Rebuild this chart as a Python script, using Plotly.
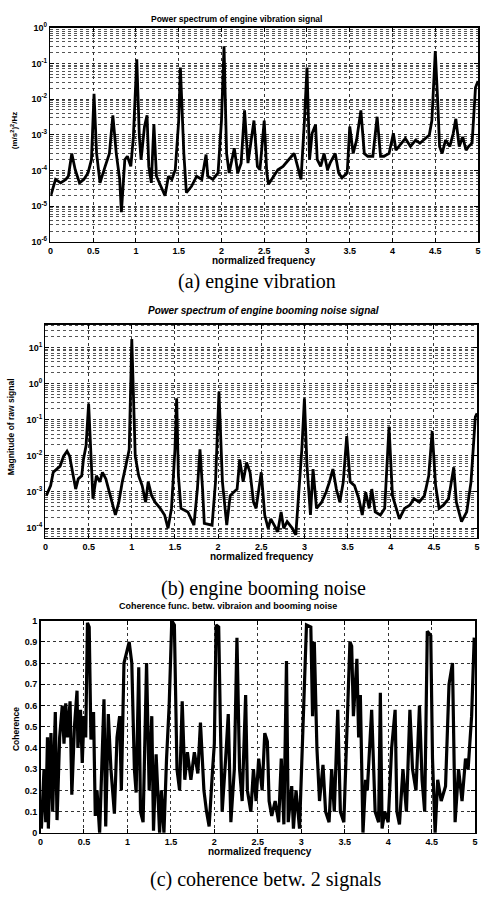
import plotly.graph_objects as go

W, H = 485, 899

# ---------------- Panel (a): engine vibration power spectrum ----------------
vib_freq = [0.004, 0.06, 0.12, 0.18, 0.21, 0.25, 0.29, 0.34, 0.39, 0.44, 0.48, 0.51, 0.54, 0.58,
            0.64, 0.69, 0.73, 0.77, 0.81, 0.83, 0.87, 0.90, 0.94, 0.97, 1.01, 1.04, 1.06, 1.10,
            1.13, 1.15, 1.18, 1.21, 1.24, 1.29, 1.34, 1.38, 1.42, 1.46, 1.50, 1.52, 1.56, 1.59,
            1.65, 1.71, 1.77, 1.82, 1.84, 1.90, 1.96, 2.00, 2.03, 2.06, 2.09, 2.15, 2.19, 2.23,
            2.27, 2.31, 2.38, 2.42, 2.45, 2.50, 2.53, 2.55, 2.61, 2.66, 2.72, 2.78, 2.82, 2.85,
            2.89, 2.93, 2.97, 3.00, 3.03, 3.06, 3.10, 3.12, 3.16, 3.20, 3.24, 3.27, 3.33, 3.37,
            3.41, 3.47, 3.50, 3.54, 3.58, 3.63, 3.67, 3.71, 3.77, 3.82, 3.86, 3.90, 3.96, 4.01,
            4.04, 4.10, 4.15, 4.21, 4.27, 4.32, 4.38, 4.43, 4.46, 4.50, 4.53, 4.55, 4.58, 4.62,
            4.67, 4.71, 4.74, 4.78, 4.82, 4.86, 4.89, 4.93, 4.97, 5.00]
vib_power = [1.95e-5, 5.6e-5, 4.5e-5, 5.6e-5, 6.9e-5, 3.0e-4, 1.05e-4, 4.5e-5, 5.6e-5, 8.5e-5,
             2.0e-4, 1.4e-2, 3.0e-4, 4.5e-5, 1.3e-4, 3.0e-4, 3.5e-3, 3.0e-4, 5.6e-5, 6.8e-6,
             2.0e-4, 2.5e-4, 1.3e-4, 8.7e-4, 1.3e-1, 8.7e-4, 2.0e-4, 1.7e-3, 3.5e-3, 1.3e-4,
             4.5e-5, 2.0e-3, 6.9e-5, 3.6e-5, 1.95e-5, 6.9e-5, 5.6e-5, 1.05e-4, 2.5e-3, 7.6e-2,
             3.0e-4, 2.4e-5, 3.6e-5, 6.9e-5, 5.6e-5, 2.8e-4, 6.9e-5, 5.6e-5, 8.5e-5, 2.5e-3,
             3.0e-1, 3.0e-4, 8.5e-5, 4.2e-4, 8.5e-5, 1.6e-4, 4.8e-3, 1.6e-4, 2.5e-3, 1.3e-4,
             1.05e-4, 2.5e-3, 8.5e-5, 4.1e-5, 6.9e-5, 1.05e-4, 1.3e-4, 2.0e-4, 2.5e-4, 3.0e-4,
             1.3e-4, 5.6e-5, 2.5e-3, 7.6e-2, 2.0e-4, 1.1e-3, 1.9e-3, 2.0e-4, 1.3e-4, 3.0e-4,
             1.05e-4, 1.6e-4, 3.0e-4, 8.5e-5, 6.2e-5, 8.5e-5, 1.7e-3, 3.0e-4, 7.1e-4, 4.8e-3,
             3.0e-4, 2.5e-4, 2.5e-4, 3.2e-3, 2.5e-4, 2.5e-4, 3.0e-4, 1.1e-3, 3.7e-4, 5.8e-4,
             7.9e-4, 4.7e-4, 7.1e-4, 5.8e-4, 7.9e-4, 9.8e-4, 2.5e-3, 2.2e-1, 7.2e-3, 4.7e-4,
             3.0e-4, 7.1e-4, 4.7e-4, 1.1e-3, 2.8e-3, 4.7e-4, 8.7e-4, 3.7e-4, 4.7e-4, 5.8e-4,
             2.1e-2, 3.2e-2]
vib_ticks = [1e-6, 1e-5, 1e-4, 1e-3, 1e-2, 1e-1, 1e0]
vib_tick_text = ["10<sup>-6</sup>", "10<sup>-5</sup>", "10<sup>-4</sup>", "10<sup>-3</sup>",
                 "10<sup>-2</sup>", "10<sup>-1</sup>", "10<sup>0</sup>"]

# ---------------- Panel (b): engine booming noise spectrum ----------------
noise_freq = [0.01, 0.06, 0.09, 0.13, 0.17, 0.21, 0.25, 0.28, 0.32, 0.35, 0.38, 0.42, 0.44, 0.47,
              0.50, 0.52, 0.55, 0.59, 0.63, 0.66, 0.70, 0.72, 0.76, 0.81, 0.85, 0.89, 0.93, 0.97,
              1.00, 1.04, 1.08, 1.12, 1.16, 1.19, 1.23, 1.27, 1.33, 1.38, 1.42, 1.46, 1.50, 1.52,
              1.54, 1.57, 1.65, 1.72, 1.76, 1.79, 1.82, 1.84, 1.93, 1.97, 2.01, 2.05, 2.10, 2.14,
              2.18, 2.22, 2.25, 2.29, 2.33, 2.37, 2.41, 2.44, 2.50, 2.54, 2.58, 2.61, 2.65, 2.69,
              2.73, 2.76, 2.80, 2.86, 2.90, 2.93, 2.97, 3.00, 3.03, 3.07, 3.10, 3.14, 3.20, 3.25,
              3.29, 3.33, 3.37, 3.41, 3.45, 3.49, 3.53, 3.58, 3.63, 3.67, 3.71, 3.75, 3.78, 3.82,
              3.88, 3.93, 3.98, 4.02, 4.07, 4.10, 4.16, 4.22, 4.27, 4.33, 4.39, 4.44, 4.48, 4.52,
              4.56, 4.61, 4.67, 4.73, 4.76, 4.82, 4.88, 4.93, 4.98, 5.00]
noise_mag = [7.9e-4, 1.5e-3, 3.5e-3, 4.3e-3, 5.2e-3, 9.8e-3, 1.35e-2, 9.8e-3, 2.8e-3, 1.2e-3,
             2.3e-3, 2.8e-3, 7.9e-3, 1.9e-2, 2.8e-1, 1.5e-2, 6.5e-4, 2.8e-3, 1.9e-3, 3.5e-3,
             2.3e-3, 1.5e-3, 6.5e-4, 2.3e-4, 5.2e-4, 1.9e-3, 5.2e-3, 1.5e-2, 17.0, 9.8e-3,
             2.8e-3, 1.5e-3, 5.2e-4, 1.9e-3, 7.9e-4, 5.2e-4, 3.5e-4, 2.3e-4, 9.8e-5, 3.5e-4,
             1.5e-2, 3.9e-1, 2.8e-3, 3.5e-4, 2.8e-4, 1.2e-4, 1.2e-3, 1.5e-2, 1.2e-3, 1.35e-4,
             1.2e-4, 1.9e-3, 5.9e-1, 1.9e-3, 1.2e-4, 7.9e-4, 9.8e-4, 1.2e-3, 7.9e-3, 1.9e-3,
             6.5e-3, 3.5e-3, 5.2e-4, 3.5e-4, 3.5e-3, 2.3e-4, 9.8e-5, 1.8e-4, 1.2e-4, 7.9e-5,
             2.8e-4, 9.8e-5, 1.5e-4, 9.8e-5, 6.5e-5, 5.2e-4, 1.5e-2, 3.9e-1, 5.2e-3, 2.3e-4,
             4.3e-3, 3.5e-4, 5.2e-4, 9.8e-4, 1.9e-3, 4.3e-3, 1.2e-3, 5.2e-4, 1.9e-3, 3.5e-2,
             1.9e-3, 1.5e-3, 6.5e-4, 2.3e-4, 9.8e-4, 3.5e-4, 1.2e-3, 2.8e-4, 2.3e-4, 3.5e-4,
             6.5e-2, 7.9e-4, 2.8e-4, 1.8e-4, 3.5e-4, 4.3e-4, 6.5e-4, 5.2e-4, 7.9e-4, 2.8e-3,
             4.8e-2, 1.5e-3, 3.5e-4, 4.3e-4, 6.5e-4, 4.8e-3, 5.2e-4, 1.5e-4, 2.8e-4, 1.9e-3,
             1.2e-1, 1.5e-1]
noise_ticks = [1e-4, 1e-3, 1e-2, 1e-1, 1e0, 1e1]
noise_tick_text = ["10<sup>-4</sup>", "10<sup>-3</sup>", "10<sup>-2</sup>", "10<sup>-1</sup>",
                   "10<sup>0</sup>", "10<sup>1</sup>"]

# ---------------- Panel (c): coherence ----------------
coh_freq = [0.01, 0.04, 0.06, 0.08, 0.09, 0.12, 0.14, 0.17, 0.19, 0.22, 0.25, 0.27, 0.29, 0.31,
            0.34, 0.36, 0.39, 0.42, 0.43, 0.46, 0.48, 0.50, 0.52, 0.54, 0.56, 0.58, 0.61, 0.63,
            0.65, 0.68, 0.70, 0.73, 0.75, 0.78, 0.81, 0.85, 0.88, 0.91, 0.93, 0.96, 0.99, 1.02,
            1.05, 1.08, 1.10, 1.13, 1.15, 1.18, 1.22, 1.25, 1.28, 1.30, 1.33, 1.37, 1.39, 1.42,
            1.45, 1.48, 1.51, 1.54, 1.57, 1.60, 1.63, 1.66, 1.69, 1.73, 1.77, 1.81, 1.84, 1.88,
            1.91, 1.94, 1.98, 2.00, 2.02, 2.05, 2.07, 2.09, 2.13, 2.16, 2.19, 2.23, 2.26, 2.29,
            2.32, 2.36, 2.38, 2.42, 2.45, 2.48, 2.51, 2.55, 2.58, 2.61, 2.63, 2.66, 2.70, 2.74,
            2.77, 2.80, 2.83, 2.85, 2.89, 2.91, 2.94, 2.98, 3.02, 3.06, 3.11, 3.13, 3.15, 3.18,
            3.21, 3.25, 3.28, 3.32, 3.35, 3.38, 3.42, 3.45, 3.49, 3.53, 3.56, 3.58, 3.60, 3.64,
            3.66, 3.68, 3.71, 3.74, 3.76, 3.81, 3.85, 3.89, 3.91, 3.93, 3.96, 4.00, 4.04, 4.08,
            4.10, 4.13, 4.17, 4.21, 4.25, 4.28, 4.32, 4.36, 4.39, 4.42, 4.45, 4.49, 4.51, 4.54,
            4.57, 4.61, 4.66, 4.70, 4.74, 4.77, 4.81, 4.85, 4.89, 4.92, 4.96, 4.99]
coh_val = [0.02, 0.30, 0.05, 0.45, 0.02, 0.47, 0.10, 0.57, 0.06, 0.45, 0.60, 0.42, 0.61, 0.45,
           0.62, 0.18, 0.50, 0.67, 0.40, 0.58, 0.33, 0.55, 0.45, 0.99, 0.97, 0.44, 0.57, 0.08,
           0.20, 0.00, 0.25, 0.63, 0.03, 0.56, 0.30, 0.09, 0.45, 0.55, 0.20, 0.80, 0.85, 0.90,
           0.80, 0.30, 0.19, 0.78, 0.10, 0.05, 0.80, 0.20, 0.55, 0.01, 0.37, 0.00, 0.20, 0.00,
           0.35, 0.60, 1.00, 0.98, 0.30, 0.20, 0.62, 0.25, 0.38, 0.25, 0.38, 0.28, 0.52, 0.20,
           0.10, 0.03, 0.30, 0.42, 0.98, 0.97, 0.50, 0.10, 0.35, 0.56, 0.05, 0.30, 0.92, 0.30,
           0.15, 0.65, 0.20, 0.10, 0.30, 0.15, 0.35, 0.20, 0.47, 0.43, 0.15, 0.08, 0.15, 0.05,
           0.35, 0.04, 0.81, 0.05, 0.22, 0.02, 0.20, 0.02, 0.50, 0.98, 0.97, 0.55, 0.90, 0.40,
           0.15, 0.32, 0.10, 0.05, 0.30, 0.10, 0.58, 0.10, 0.05, 0.60, 0.90, 0.88, 0.55, 0.82,
           0.45, 0.65, 0.00, 0.25, 0.20, 0.58, 0.10, 0.05, 0.66, 0.02, 0.10, 0.05, 0.40, 0.58,
           0.10, 0.04, 0.30, 0.10, 0.58, 0.30, 0.20, 0.60, 0.25, 0.10, 0.95, 0.93, 0.35, 0.00,
           0.25, 0.15, 0.22, 0.70, 0.80, 0.05, 0.30, 0.15, 0.35, 0.30, 0.55, 0.92]

x_ticks = [0, 0.5, 1, 1.5, 2, 2.5, 3, 3.5, 4, 4.5, 5]
x_tick_text = ["0", "0.5", "1", "1.5", "2", "2.5", "3", "3.5", "4", "4.5", "5"]
coh_ticks = [0, 0.1, 0.2, 0.3, 0.4, 0.5, 0.6, 0.7, 0.8, 0.9, 1]
coh_tick_text = ["0", "0.1", "0.2", "0.3", "0.4", "0.5", "0.6", "0.7", "0.8", "0.9", "1"]


def px_x(x0, x1):
    return [x0 / W, x1 / W]


def px_y(top, bottom):
    return [1 - bottom / H, 1 - top / H]


SANS = "Liberation Sans"
SERIF = "Liberation Serif"

fig = go.Figure()
fig.add_trace(go.Scatter(x=vib_freq, y=vib_power, mode="lines",
                         line=dict(color="black", width=2.8), xaxis="x", yaxis="y"))
fig.add_trace(go.Scatter(x=noise_freq, y=noise_mag, mode="lines",
                         line=dict(color="black", width=2.8), xaxis="x2", yaxis="y2"))
fig.add_trace(go.Scatter(x=coh_freq, y=coh_val, mode="lines",
                         line=dict(color="black", width=3.2), xaxis="x3", yaxis="y3"))

tickfont = dict(family=SANS, size=9, color="black", weight="bold")
grid_common = dict(showgrid=True, gridcolor="#333", gridwidth=1, griddash="dot",
                   showline=True, linecolor="black", linewidth=1.5, mirror="ticks",
                   ticks="inside", ticklen=4, tickcolor="black", zeroline=False,
                   tickfont=tickfont, ticklabeloverflow="allow")

xcommon = dict(range=[0, 5], tickvals=x_ticks, ticktext=x_tick_text, **grid_common)
log_minor = dict(dtick="D1", showgrid=True, gridcolor="#555", griddash="dot", gridwidth=1,
                 ticks="", ticklen=2)

fig.update_layout(
    width=W, height=H, autosize=False, showlegend=False,
    margin=dict(l=0, r=0, t=0, b=0),
    paper_bgcolor="white", plot_bgcolor="white",
    xaxis=dict(domain=px_x(48, 481), anchor="y", **xcommon),
    yaxis=dict(domain=px_y(21, 238), anchor="x", type="log", range=[-6, 0],
               tickvals=vib_ticks, ticktext=vib_tick_text, minor=log_minor, **grid_common),
    xaxis2=dict(domain=px_x(43, 480), anchor="y2", **xcommon),
    yaxis2=dict(domain=px_y(322, 538), anchor="x2", type="log", range=[-4.27, 1.63],
                tickvals=noise_ticks, ticktext=noise_tick_text, minor=log_minor, **grid_common),
    xaxis3=dict(domain=px_x(38, 478), anchor="y3", **xcommon),
    yaxis3=dict(domain=px_y(622, 837), anchor="x3", range=[0, 1], tickvals=coh_ticks,
                ticktext=coh_tick_text, **grid_common),
)


def ann(text, x, y, size, family=SANS, weight="bold", angle=0, style="normal"):
    fig.add_annotation(text=text, x=x / W, y=1 - y / H, xref="paper", yref="paper",
                       xanchor="center", yanchor="middle", showarrow=False, textangle=angle,
                       font=dict(family=family, size=size, color="black", weight=weight, style=style))


# panel (a)
ann("Power spectrum of engine vibration signal", 236, 12, 8.5)
ann("normalized frequency", 264, 257, 10)
ann("(a) engine vibration", 257, 278, 20, family=SERIF, weight="normal")
ann("(m/s<sup>2</sup>)<sup>2</sup>/Hz", 11, 125, 8, angle=-90)
# panel (b)
ann("Power spectrum of engine booming noise signal", 264, 308, 10, style="italic")
ann("normalized frequency", 262, 557, 10)
ann("(b) engine booming noise", 264, 589, 20, family=SERIF, weight="normal")
ann("Magnitude of raw signal", 8, 425, 8.5, angle=-90)
# panel (c)
ann("Coherence func. betw. vibraion and booming noise", 228, 607, 9)
ann("normalized frequency", 260, 856, 10)
ann("(c) coherence betw. 2 signals", 266, 884, 20, family=SERIF, weight="normal")
ann("Coherence", 13, 732, 8.5, angle=-90)

# remove the browser's default page margin so the figure sits at the window's top-left corner
fig.write_html("out.html", config={"displayModeBar": False, "staticPlot": True},
               post_script="document.body.style.margin='0';document.body.style.overflow='hidden';")
